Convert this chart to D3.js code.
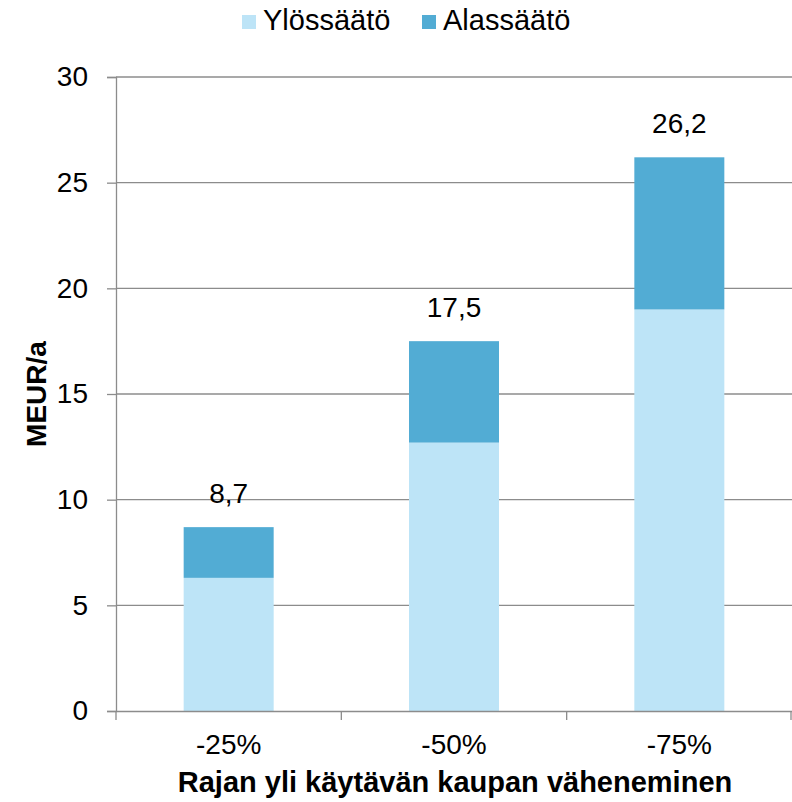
<!DOCTYPE html>
<html lang="fi">
<head>
<meta charset="UTF-8">
<title>MEUR/a</title>
<script src="https://d3js.org/d3.v7.min.js"></script>
<style>
  body { margin:0; background:#fff; }
  svg { display:block; font-family:"Liberation Sans", Arial, sans-serif; }
</style>
</head>
<body>
<svg id="chart" width="792" height="802"></svg>
<script>
// data
var categories = ["-25%", "-50%", "-75%"];
var ylos = [6.3, 12.7, 19.0];
var alas = [2.4, 4.8, 7.2];
var totals = ["8,7", "17,5", "26,2"];
var seriesNames = ["Ylössäätö", "Alassäätö"];
var colors = ["#bde4f7", "#52acd4"];
var yTicks = [0, 5, 10, 15, 20, 25, 30];

var svg = d3.select("#chart");
var mLeft = 116, mRight = 792, mTop = 77, mBottom = 711;
var gridColor = "#8c8c8c";
var fontFam = "Liberation Sans, Arial, sans-serif";

var x = d3.scaleBand().domain(categories).range([mLeft, mRight]);
var y = d3.scaleLinear().domain([0, 30]).range([mBottom, mTop]);
var barW = 90;

// gridlines
svg.append("g").selectAll("line")
  .data(yTicks.filter(function(d){ return d > 0; }))
  .enter().append("line")
    .attr("x1", mLeft).attr("x2", mRight)
    .attr("y1", function(d){ return y(d); }).attr("y2", function(d){ return y(d); })
    .attr("stroke", gridColor).attr("stroke-width", 1.3);

// stacked bars
var rows = categories.map(function(c, i){ return {cat:c, a:ylos[i], b:alas[i], label:totals[i]}; });
var g = svg.append("g");
rows.forEach(function(r){
  var cx = x(r.cat) + x.bandwidth() / 2;
  g.append("rect")
    .attr("x", cx - barW/2).attr("width", barW)
    .attr("y", y(r.a)).attr("height", y(0) - y(r.a))
    .attr("fill", colors[0]);
  g.append("rect")
    .attr("x", cx - barW/2).attr("width", barW)
    .attr("y", y(r.a + r.b)).attr("height", y(r.a) - y(r.a + r.b))
    .attr("fill", colors[1]);
  g.append("text")
    .attr("x", cx).attr("y", y(r.a + r.b) - 24)
    .attr("text-anchor", "middle")
    .attr("font-size", 28).attr("fill", "#000")
    .text(r.label);
});

// y axis
var yAxis = svg.append("g")
  .attr("transform", "translate(" + mLeft + ",0)")
  .call(d3.axisLeft(y).tickValues(yTicks).tickSize(9).tickPadding(19));
yAxis.select(".domain").attr("stroke", gridColor).attr("stroke-width", 1.3);
yAxis.selectAll(".tick line").attr("stroke", gridColor).attr("stroke-width", 1.3);
yAxis.selectAll(".tick text").attr("font-size", 28).attr("fill", "#000")
  .attr("font-family", fontFam);

// x axis
var xAxis = svg.append("g")
  .attr("transform", "translate(0," + mBottom + ")")
  .call(d3.axisBottom(x).tickSize(0).tickPadding(23));
xAxis.select(".domain").attr("stroke", gridColor).attr("stroke-width", 1.3);
xAxis.selectAll(".tick text").attr("font-size", 28).attr("fill", "#000")
  .attr("font-family", fontFam);
// category boundary ticks
var bounds = categories.map(function(c){ return x(c); }).concat([mRight]);
svg.append("g").selectAll("line")
  .data(bounds).enter().append("line")
    .attr("x1", function(d){ return Math.min(d, mRight - 1); })
    .attr("x2", function(d){ return Math.min(d, mRight - 1); })
    .attr("y1", mBottom).attr("y2", mBottom + 9)
    .attr("stroke", gridColor).attr("stroke-width", 1.3);

// axis titles
svg.append("text")
  .attr("x", 455).attr("y", 792)
  .attr("text-anchor", "middle")
  .attr("font-size", 29).attr("font-weight", "bold")
  .text("Rajan yli käytävän kaupan väheneminen");
svg.append("text")
  .attr("transform", "translate(46," + ((mTop + mBottom) / 2) + ") rotate(-90)")
  .attr("text-anchor", "middle")
  .attr("font-size", 28).attr("font-weight", "bold")
  .text("MEUR/a");

// legend
var legendX = [242, 422];
var legend = svg.append("g");
seriesNames.forEach(function(n, i){
  legend.append("rect")
    .attr("x", legendX[i]).attr("y", 15).attr("width", 14).attr("height", 14)
    .attr("fill", colors[i]);
  legend.append("text")
    .attr("x", legendX[i] + 21).attr("y", 30)
    .attr("font-size", 29).attr("fill", "#000")
    .text(n);
});
</script>
</body>
</html>
